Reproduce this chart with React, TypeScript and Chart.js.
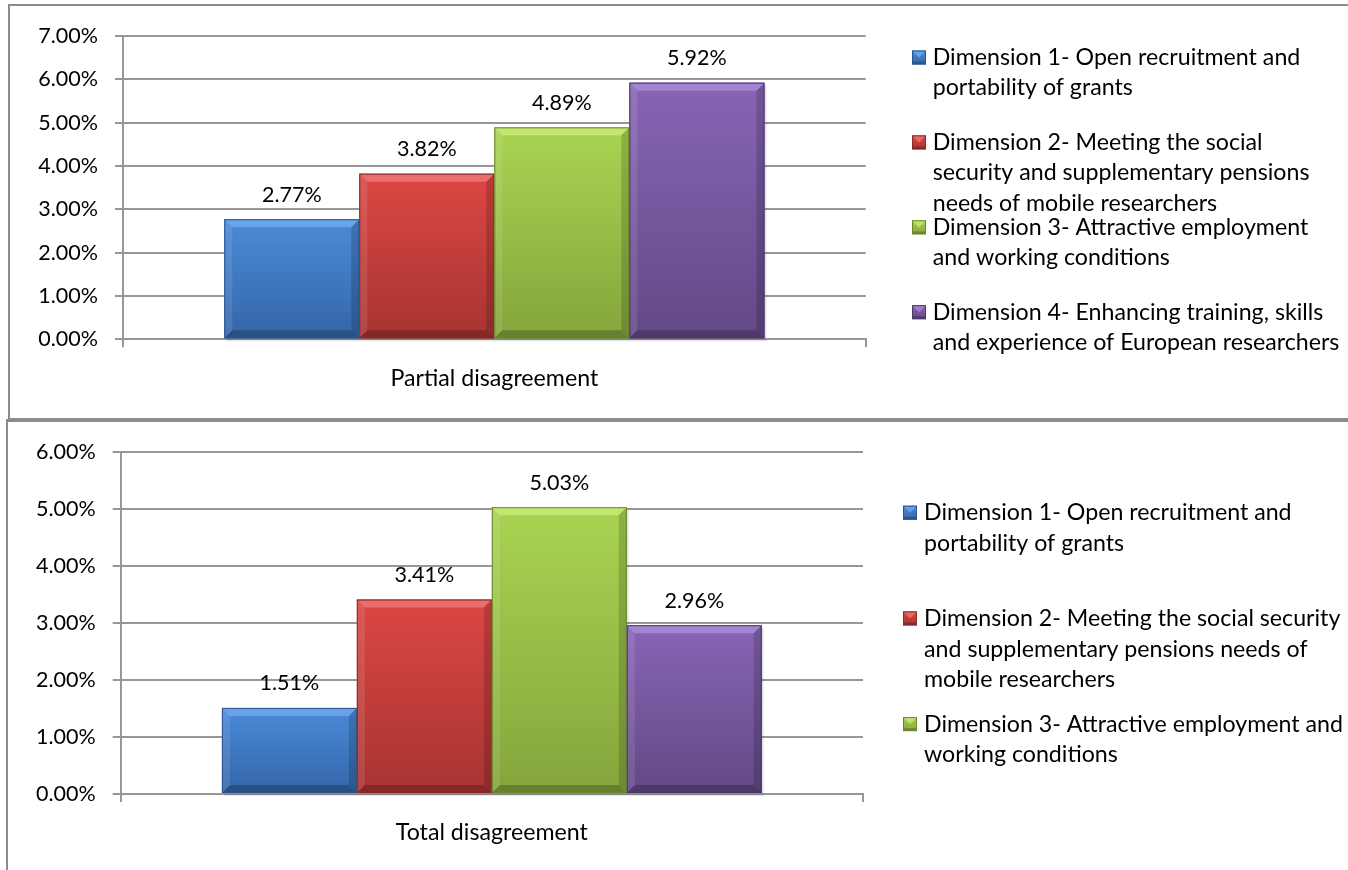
import React, { useEffect, useRef } from "react";
import { Chart, registerables } from "chart.js";
Chart.register(...registerables);

// ---------- data ----------
const topCategories = ["Partial disagreement"];
const bottomCategories = ["Total disagreement"];
const seriesNames = [
  "Dimension 1- Open recruitment and portability of grants",
  "Dimension 2- Meeting the social security and supplementary pensions needs of mobile researchers",
  "Dimension 3- Attractive employment and working conditions",
  "Dimension 4- Enhancing training, skills and experience of European researchers",
];
const partialValues = [2.77, 3.82, 4.89, 5.92];
const totalValues = [1.51, 3.41, 5.03, 2.96];
const topAxisMax = 7;
const bottomAxisMax = 6;
const axisStep = 1;
const topLegendLines = [
  ["Dimension 1- Open recruitment and", "portability of grants"],
  ["Dimension 2- Meeting the social", "security and supplementary pensions", "needs of mobile researchers"],
  ["Dimension 3- Attractive employment", "and working conditions"],
  ["Dimension 4- Enhancing training, skills", "and experience of European researchers"],
];
const bottomLegendLines = [
  ["Dimension 1- Open recruitment and", "portability of grants"],
  ["Dimension 2- Meeting the social security", "and supplementary pensions needs of", "mobile researchers"],
  ["Dimension 3- Attractive employment and", "working conditions"],
];

// ---------- styles ----------
const FONT_FAMILY = "Lato, 'Open Sans', sans-serif";
const NUM_SIZE = 21.5;
const TEXT_SIZE = 23.2;
const GRID = "#979797";
const palette = [
  { mid: "#3f78c2", top: "#4a8ad9", bottom: "#3466a8", edge: "#2b5590", light: "#74aef0" },
  { mid: "#c63e3b", top: "#dc4744", bottom: "#a73431", edge: "#8a2a27", light: "#f27b77" },
  { mid: "#98bc47", top: "#a9d452", bottom: "#85a53c", edge: "#6a872d", light: "#cdee80" },
  { mid: "#7656a0", top: "#8865b5", bottom: "#634886", edge: "#4d386b", light: "#ae90da" },
];

const fmt = (v: number) => v.toFixed(2) + "%";

const bevelPlugin = {
  id: "bevelBars",
  afterDatasetsDraw(chart: any) {
    const ctx = chart.ctx;
    chart.data.datasets.forEach((ds: any, i: number) => {
      const meta = chart.getDatasetMeta(i);
      const c = palette[i % palette.length];
      meta.data.forEach((el: any) => {
        const { x, y, base, width } = el.getProps(["x", "y", "base", "width"], true);
        const left = x - width / 2;
        const right = x + width / 2;
        const top = Math.min(y, base);
        const bottom = Math.max(y, base);
        const w = right - left;
        const h = bottom - top;
        if (h <= 0) return;
        ctx.save();
        ctx.fillStyle = "rgba(0,0,0,0.10)";
        ctx.fillRect(left + 2, top + 3, w, h);
        const g = ctx.createLinearGradient(0, top, 0, bottom);
        g.addColorStop(0, c.top);
        g.addColorStop(1, c.bottom);
        ctx.fillStyle = g;
        ctx.fillRect(left, top, w, h);
        const b = Math.min(8, h / 2, w / 2);
        ctx.beginPath();
        ctx.moveTo(left, top);
        ctx.lineTo(right, top);
        ctx.lineTo(right - b, top + b);
        ctx.lineTo(left + b, top + b);
        ctx.closePath();
        ctx.fillStyle = c.light;
        ctx.globalAlpha = 0.75;
        ctx.fill();
        ctx.globalAlpha = 1;
        ctx.beginPath();
        ctx.moveTo(left, top);
        ctx.lineTo(left + b, top + b);
        ctx.lineTo(left + b, bottom - b);
        ctx.lineTo(left, bottom);
        ctx.closePath();
        ctx.fillStyle = "rgba(255,255,255,0.10)";
        ctx.fill();
        ctx.beginPath();
        ctx.moveTo(right, top);
        ctx.lineTo(right - b, top + b);
        ctx.lineTo(right - b, bottom - b);
        ctx.lineTo(right, bottom);
        ctx.closePath();
        ctx.fillStyle = "rgba(0,0,0,0.16)";
        ctx.fill();
        ctx.beginPath();
        ctx.moveTo(left, bottom);
        ctx.lineTo(left + b, bottom - b);
        ctx.lineTo(right - b, bottom - b);
        ctx.lineTo(right, bottom);
        ctx.closePath();
        ctx.fillStyle = "rgba(0,0,0,0.22)";
        ctx.fill();
        ctx.strokeStyle = c.edge;
        ctx.lineWidth = 1;
        ctx.strokeRect(left + 0.5, top + 0.5, w - 1, h - 1);
        ctx.restore();
      });
    });
  },
};

const valueLabelPlugin = {
  id: "valueLabels",
  afterDatasetsDraw(chart: any) {
    const ctx = chart.ctx;
    ctx.save();
    ctx.font = `${NUM_SIZE}px ${FONT_FAMILY}`;
    ctx.fillStyle = "#000";
    ctx.textAlign = "center";
    ctx.textBaseline = "middle";
    chart.data.datasets.forEach((ds: any, i: number) => {
      const meta = chart.getDatasetMeta(i);
      meta.data.forEach((el: any, j: number) => {
        const v = ds.data[j];
        ctx.fillText(fmt(v), el.x, el.y - 24.5);
      });
    });
    ctx.restore();
  },
};

const sideLegendPlugin = {
  id: "sideLegend",
  afterDraw(chart: any, _args: any, opts: any) {
    if (!opts || !opts.lines) return;
    const ctx = chart.ctx;
    ctx.save();
    ctx.font = `${TEXT_SIZE}px ${FONT_FAMILY}`;
    ctx.textAlign = "left";
    ctx.textBaseline = "middle";
    opts.lines.forEach((lines: string[], i: number) => {
      const cy = opts.y0 + i * opts.step;
      const c = palette[i % palette.length];
      const s = opts.box;
      const bx = opts.boxX;
      const by = cy - s / 2;
      const g = ctx.createLinearGradient(0, by, 0, by + s);
      g.addColorStop(0, c.top);
      g.addColorStop(1, c.bottom);
      ctx.fillStyle = g;
      ctx.fillRect(bx, by, s, s);
      ctx.beginPath();
      ctx.moveTo(bx, by);
      ctx.lineTo(bx + s, by);
      ctx.lineTo(bx + s / 2, by + s / 2);
      ctx.closePath();
      ctx.fillStyle = c.light;
      ctx.globalAlpha = 0.7;
      ctx.fill();
      ctx.globalAlpha = 1;
      ctx.fillStyle = "rgba(0,0,0,0.2)";
      ctx.fillRect(bx, by + s - 3, s, 3);
      ctx.strokeStyle = c.edge;
      ctx.lineWidth = 1;
      ctx.strokeRect(bx + 0.5, by + 0.5, s - 1, s - 1);
      ctx.fillStyle = "#000";
      lines.forEach((t, k) => {
        ctx.fillText(t, opts.textX, cy + k * opts.lineH);
      });
    });
    ctx.restore();
  },
};

type Cfg = {
  categories: string[];
  values: number[];
  max: number;
  width: number;
  height: number;
  plotLeft: number;
  plotRight: number;
  plotTop: number;
  plotBottom: number;
  legend: any;
};

function BarChart({ cfg, style }: { cfg: Cfg; style: React.CSSProperties }) {
  const ref = useRef<HTMLCanvasElement | null>(null);
  useEffect(() => {
    if (!ref.current) return;
    const chart = new Chart(ref.current, {
      type: "bar",
      data: {
        labels: cfg.categories,
        datasets: cfg.values.map((v, i) => ({
          label: seriesNames[i],
          data: [v],
          backgroundColor: palette[i].mid,
          borderWidth: 0,
          categoryPercentage: 4 / 5.5,
          barPercentage: 1,
        })),
      },
      options: {
        responsive: false,
        animation: false,
        events: [],
        layout: {
          padding: { left: 0, top: cfg.plotTop, right: cfg.width - cfg.plotRight, bottom: 0 },
        },
        font: { family: FONT_FAMILY, size: NUM_SIZE },
        plugins: {
          legend: { display: false },
          tooltip: { enabled: false },
          sideLegend: cfg.legend,
        } as any,
        scales: {
          x: {
            offset: true,
            grid: { display: true, drawOnChartArea: false, drawTicks: true, tickLength: 8, offset: true, color: GRID, lineWidth: 2 },
            border: { display: true, color: GRID, width: 2 },
            ticks: { color: "#000", padding: 17, maxRotation: 0, font: { family: FONT_FAMILY, size: TEXT_SIZE } },
            afterFit: (s: any) => {
              s.height = cfg.height - cfg.plotBottom;
            },
          },
          y: {
            min: 0,
            max: cfg.max,
            grid: { color: GRID, lineWidth: 2, tickLength: 8, drawTicks: true },
            border: { display: true, color: GRID, width: 2 },
            ticks: {
              stepSize: axisStep,
              color: "#000",
              padding: 17,
              font: { family: FONT_FAMILY, size: NUM_SIZE },
              callback: (v: any) => fmt(Number(v)),
            },
            afterFit: (s: any) => {
              s.width = cfg.plotLeft;
            },
          },
        },
      } as any,
      plugins: [bevelPlugin, valueLabelPlugin, sideLegendPlugin],
    });
    return () => chart.destroy();
  }, [cfg]);
  return <canvas ref={ref} width={cfg.width} height={cfg.height} style={{ ...style, width: cfg.width, height: cfg.height, display: "block" }} />;
}

const topCfg: Cfg = {
  categories: topCategories,
  values: partialValues,
  max: topAxisMax,
  width: 1338,
  height: 412,
  plotLeft: 113,
  plotRight: 855.7,
  plotTop: 27,
  plotBottom: 333.3,
  legend: { lines: topLegendLines, boxX: 902, box: 14, textX: 922.7, y0: 51.5, step: 84.9, lineH: 30.5 },
};

const bottomCfg: Cfg = {
  categories: bottomCategories,
  values: totalValues,
  max: bottomAxisMax,
  width: 1340,
  height: 448,
  plotLeft: 112.7,
  plotRight: 855,
  plotTop: 28.5,
  plotBottom: 372,
  legend: { lines: bottomLegendLines, boxX: 895, box: 14, textX: 916, y0: 90.7, step: 105.7, lineH: 30.7 },
};

export default function App() {
  return (
    <div style={{ position: "absolute", left: 0, top: 0, width: 1348, height: 870, overflow: "hidden", background: "#fff" }}>
      <div style={{ position: "absolute", left: 8, top: 4, width: 1400, height: 416, boxSizing: "border-box", border: "2px solid #8c8c8c" }} />
      <div style={{ position: "absolute", left: 6, top: 419, width: 1400, height: 500, boxSizing: "border-box", borderTop: "3px solid #8c8c8c", borderLeft: "2px solid #8c8c8c" }} />
      <BarChart cfg={topCfg} style={{ position: "absolute", left: 10, top: 6 }} />
      <BarChart cfg={bottomCfg} style={{ position: "absolute", left: 8, top: 422 }} />
    </div>
  );
}
